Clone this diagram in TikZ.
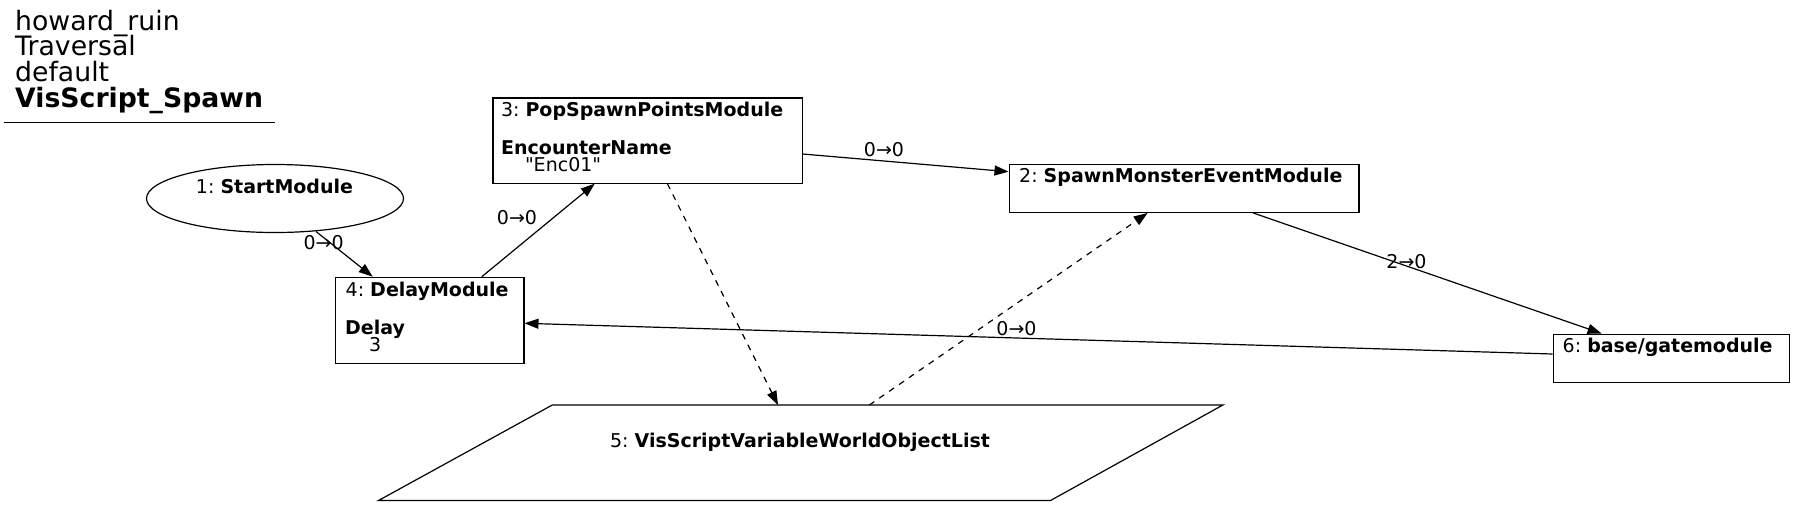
\documentclass[tikz,border=0pt]{standalone}
\usepackage{fontspec}
\setmainfont{DejaVu Sans}[Ligatures=TeXOff]
\usetikzlibrary{arrows.meta,shapes.geometric,calc}
\frenchspacing
\begin{document}
\begin{tikzpicture}[x=1pt,y=-1pt,
  box/.style={draw, rectangle, inner sep=0pt, anchor=north west, line width=1.2pt},
  lbl/.style={inner sep=0pt, anchor=base west, font=\fontsize{19}{19}\selectfont},
  clbl/.style={inner sep=0pt, anchor=base, font=\fontsize{19}{19}\selectfont},
  elbl/.style={inner sep=0pt, anchor=center, font=\fontsize{19}{19}\selectfont},
  ttl/.style={inner sep=0pt, anchor=base west, font=\fontsize{26.7}{26}\selectfont},
  conn/.style={line width=1.2pt, -{Triangle[length=14pt,width=10pt]}},
  dconn/.style={conn, dash pattern=on 6pt off 6pt}]
\fill[white] (0,0) rectangle (1793,507);
\useasboundingbox (0,0) rectangle (1793,507);

% title
\node[ttl] (t1) at (15,30) {howard\_ruin};
\node[ttl] (t2) at (15,55.5) {Traversal};
\node[ttl] (t3) at (15,81.5) {default};
\node[ttl] (t4) at (15,107) {\bfseries VisScript\_Spawn};
\coordinate (ul1) at (4,122.7);
\coordinate (ul2) at (275,122.7);
\draw[line width=1.2pt] (ul1) -- (ul2);

% node 1
\node[draw, ellipse, inner sep=0pt, minimum width=257pt, minimum height=68pt, line width=1.2pt] (n1) at (275,198.5) {};
\node[clbl] (n1t) at (274.5,193.3) {1: \textbf{StartModule}};

% node 3
\node[box, minimum width=309.2pt, minimum height=85.2pt] (n3) at (492.3,97.3) {};
\node[lbl] (n3a) at (500.8,116) {3: \textbf{PopSpawnPointsModule}};
\node[lbl] (n3b) at (501,154) {\textbf{EncounterName}};
\node[lbl] (n3c) at (524.8,171.7) {"Enc01"};

% node 4
\node[box, minimum width=188.3pt, minimum height=85.8pt] (n4) at (335,276.7) {};
\node[lbl] (n4a) at (345.5,296) {4: \textbf{DelayModule}};
\node[lbl] (n4b) at (345,334) {\textbf{Delay}};
\node[lbl] (n4c) at (368.8,351) {3};

% node 2
\node[box, minimum width=349.8pt, minimum height=47.7pt] (n2) at (1008.5,164) {};
\node[lbl] (n2a) at (1019,182.7) {2: \textbf{SpawnMonsterEventModule}};

% node 6
\node[box, minimum width=236.3pt, minimum height=48.5pt] (n6) at (1552.7,333.5) {};
\node[lbl] (n6a) at (1562.5,352.3) {6: \textbf{base/gatemodule}};

% node 5 (parallelogram)
\coordinate (p5nw) at (552.3,405);
\coordinate (p5ne) at (1222.9,405);
\coordinate (p5se) at (1050.5,500.5);
\coordinate (p5sw) at (378.5,500.5);
\draw[line width=1.2pt, line join=miter] (p5nw) -- (p5ne) -- (p5se) -- (p5sw) -- cycle;
\node[clbl] (n5) at (800,447) {5: \textbf{VisScriptVariableWorldObjectList}};
\coordinate (p5in) at (778,405);
\coordinate (p5out) at (869.4,405);

% edges
\draw[conn] ($(n1.center)+(41,33)$) -- ($(n4.north west)+(37.7,0)$);
\node[elbl] (e14) at (323.6,242.5) {0→0};

\draw[conn] ($(n4.north west)+(146.8,0)$) -- ($(n3.south west)+(102.4,0)$);
\node[elbl] (e43) at (517,217.5) {0→0};

\draw[conn] ($(n3.north east)+(0,56.7)$) -- ($(n2.north west)+(0,7.7)$);
\node[elbl] (e32) at (884,150) {0→0};

\draw[conn] ($(n2.south west)+(244.5,0)$) -- ($(n6.north west)+(48.9,0)$);
\node[elbl] (e26) at (1406.5,261.7) {2→0};

\draw[conn] ($(n6.north west)+(0,20.5)$) -- ($(n4.north east)+(0,46.6)$);
\node[elbl] (e64) at (1016.5,328.3) {0→0};

\draw[dconn] ($(n3.south west)+(175.1,0)$) -- (p5in);
\draw[dconn] (p5out) -- ($(n2.south west)+(139.2,0)$);
\end{tikzpicture}
\end{document}
